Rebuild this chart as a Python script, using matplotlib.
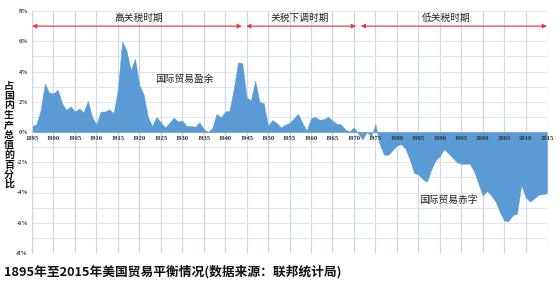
import matplotlib
matplotlib.use("Agg")
import matplotlib.pyplot as plt
import numpy as np

plt.rcParams['font.family'] = ['Noto Sans CJK SC', 'DejaVu Sans']

years = list(range(1895, 2016))
balance = [
    0.4, 0.5, 1.45, 3.2, 2.6,                          # 1895-1899
    2.55, 2.8, 1.9, 1.45, 1.7, 1.35, 1.55, 1.3, 2.05, 1.0,   # 1900-1909
    0.5, 1.35, 1.35, 1.5, 1.25, 2.8, 6.0, 5.4, 4.1, 4.85,    # 1910-1919
    3.1, 2.5, 1.0, 0.4, 1.0, 0.65, 0.3, 0.6, 0.95, 0.7,      # 1920-1929
    0.75, 0.4, 0.4, 0.35, 0.65, 0.2, 0.0, 0.25, 1.2, 0.95,   # 1930-1939
    1.35, 1.4, 2.85, 4.6, 4.55, 2.3, 2.1, 3.4, 2.0, 1.9,     # 1940-1949
    0.4, 0.8, 0.6, 0.3, 0.5, 0.6, 0.9, 1.2, 0.6, 0.1,        # 1950-1959
    0.9, 1.0, 0.8, 0.85, 1.0, 0.75, 0.55, 0.5, 0.15, 0.05,   # 1960-1969
    0.3, -0.1, -0.5, 0.0, -0.3, 0.5, -0.8, -1.5, -1.5, -1.2, # 1970-1979
    -0.9, -0.8, -1.1, -1.8, -2.7, -2.8, -3.1, -3.3, -2.5, -1.9,  # 1980-1989
    -1.6, -1.15, -1.4, -1.7, -2.0, -2.1, -2.1, -2.1, -2.6, -3.4, # 1990-1999
    -4.2, -3.9, -4.2, -4.6, -5.3, -5.85, -5.9, -5.5, -5.4, -3.5, # 2000-2009
    -4.3, -4.6, -4.4, -4.15, -4.1, -4.05,                         # 2010-2015
]

x_ticks = list(range(1895, 2016, 5))
y_ticks = [8, 6, 4, 2, 0, -2, -4, -6, -8]
y_tick_labels = ['8%', '6%', '4%', '2%', '0%', '-2%', '-4%', '-6%', '-8%']

periods = [
    ('高关税时期', 1895, 1943.9, 1919.8),
    ('关税下调时期', 1944.9, 1970.5, 1957.5),
    ('低关税时期', 1971.6, 2015, 1991.4),
]

title = '1895年至2015年美国贸易平衡情况(数据来源：联邦统计局)'
ylabel = '占国内生产总值的百分比'

fig = plt.figure(figsize=(5.6, 2.87), dpi=100)
ax = fig.add_axes([32/560, 1-253/287, (547-32)/560, (253-11)/287])

ax.fill_between(years, balance, 0, color='#5b9bd5', lw=0.3, edgecolor='#5b9bd5', zorder=2)

ax.set_xlim(1895, 2015)
ax.set_ylim(-8, 8)
ax.set_axisbelow(True)
ax.set_xticks(x_ticks)
ax.set_yticks(y_ticks)
ax.set_yticks(np.arange(-8, 9, 1), minor=True)
ax.grid(axis='x', color='#c9d9e8', lw=0.9)
ax.grid(axis='y', which='both', color='#e2e2e2', lw=0.6)
ax.tick_params(axis='both', which='both', length=0)
ax.set_xticklabels([])
ax.set_yticklabels(y_tick_labels, fontsize=4.5, family='Liberation Serif',
                   fontweight='bold', color='#333333')
ax.tick_params(axis='y', pad=3)
for s in ['top', 'right', 'bottom']:
    ax.spines[s].set_visible(False)
ax.spines['left'].set_color('#c9d9e8')

ax.axhline(0, color='#d0d0d0', lw=0.6, zorder=1)

for xt in x_ticks:
    ax.text(xt, -0.45, str(xt), ha='center', va='center', fontsize=4.8,
            family='Liberation Serif', fontweight='bold', color='#333333', zorder=5)

for label, x0, x1, xc in periods:
    ax.annotate('', xy=(x1, 7), xytext=(x0, 7),
                arrowprops=dict(arrowstyle='<|-|>,head_length=0.25,head_width=0.12',
                                color='#e8383d', lw=0.8, shrinkA=0, shrinkB=0),
                zorder=4)
    ax.text(xc, 7.55, label, ha='center', va='center', fontsize=7,
            fontweight='medium', color='#222222', zorder=5)

ax.text(1930.4, 3.5, '国际贸易盈余', ha='center', va='center', fontsize=7,
        fontweight='medium', color='#222222', zorder=5)
ax.text(1992, -4.5, '国际贸易赤字', ha='center', va='center', fontsize=7,
        fontweight='medium', color='#222222', zorder=5)

fig.text(9/560, 1-135/287, '\n'.join(ylabel), ha='center', va='center',
         fontsize=7.2, fontweight='bold', linespacing=0.98, color='#111111')

fig.text(4/560, 1-272/287, title, ha='left', va='center', fontsize=9.2,
         fontweight='bold', color='#111111')

fig.savefig('out.png', dpi=100, facecolor='white')
